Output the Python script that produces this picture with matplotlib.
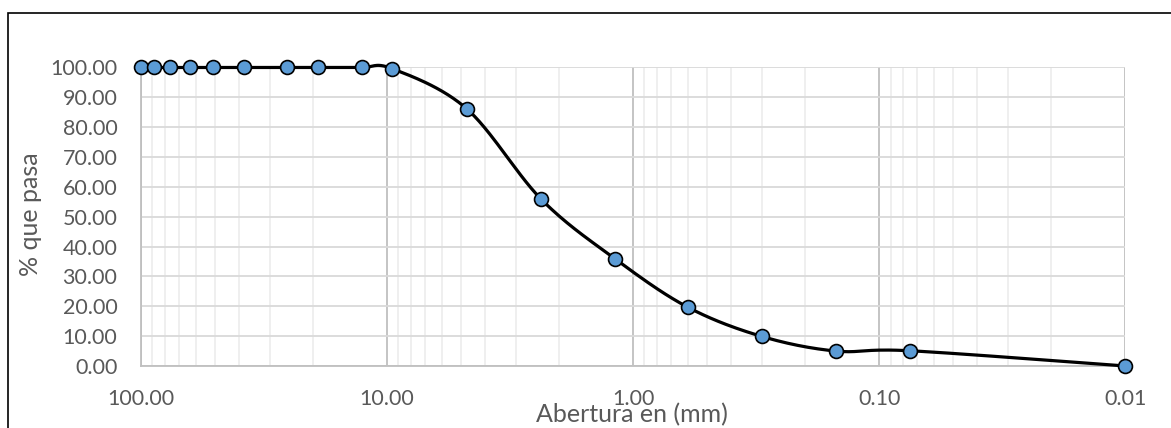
import numpy as np
import matplotlib.pyplot as plt
from matplotlib.ticker import FixedLocator, FuncFormatter, NullFormatter
from matplotlib.patches import Rectangle

plt.rcParams['font.family'] = ['Lato', 'DejaVu Sans']

# Granulometría
abertura = [100.0, 88.9, 76.2, 63.5, 50.8, 38.1, 25.4, 19.05, 12.7, 9.525,
            4.75, 2.36, 1.18, 0.60, 0.30, 0.15, 0.075, 0.01]
pasa = [100.0, 100.0, 100.0, 100.0, 100.0, 100.0, 100.0, 100.0, 100.0, 99.6,
        86.2, 55.8, 35.8, 19.7, 9.9, 5.0, 5.1, 0.0]
x_ticks = [100, 10, 1, 0.1, 0.01]
y_ticks = list(range(0, 101, 10))

gris = '#595959'

fig = plt.figure(figsize=(11.71, 4.28), dpi=100)
ax = fig.add_axes([0.1204, 0.1449, 0.8406, 0.6974])

# marco del gráfico (solo se ve arriba y a la izquierda)
fig.patches.append(Rectangle((8 / 1171, -0.1), 1.2, 1 - 12.5 / 428 + 0.1,
                             transform=fig.transFigure, fill=False,
                             edgecolor='black', linewidth=1.2))

ax.set_xscale('log')
ax.set_xlim(100, 0.01)
ax.set_ylim(0, 100)

ax.xaxis.set_major_locator(FixedLocator(x_ticks))
minors = [m * 10.0 ** e for e in range(-2, 2) for m in range(2, 10)]
ax.xaxis.set_minor_locator(FixedLocator(minors))
ax.xaxis.set_minor_formatter(NullFormatter())
ax.xaxis.set_major_formatter(FuncFormatter(lambda v, p: f'{v:.2f}'))
ax.yaxis.set_major_locator(FixedLocator(y_ticks))
ax.yaxis.set_major_formatter(FuncFormatter(lambda v, p: f'{v:.2f}'))

ax.grid(True, which='major', axis='y', color='#d9d9d9', linewidth=1.3)
ax.grid(True, which='major', axis='x', color='#bfbfbf', linewidth=1.3)
ax.grid(True, which='minor', axis='x', color='#eeeeee', linewidth=1.3)
ax.set_axisbelow(True)

for s in ['top', 'right']:
    ax.spines[s].set_visible(False)
ax.spines['bottom'].set_color('#bfbfbf')
ax.spines['left'].set_color('#bfbfbf')
ax.spines['bottom'].set_linewidth(1.3)
ax.spines['left'].set_linewidth(1.3)
ax.tick_params(which='both', length=0)
ax.tick_params(axis='y', pad=17, labelsize=15.5, labelcolor=gris)
ax.tick_params(axis='x', pad=16.5, labelsize=15.5, labelcolor=gris)

ax.set_ylabel('% que pasa', fontsize=18, color=gris)
ax.set_xlabel('Abertura en (mm)', fontsize=18, color=gris)
ax.yaxis.set_label_coords(-0.1006, 0.507)
ax.xaxis.set_label_coords(0.499, -0.124)

# curva suavizada (Catmull-Rom en coordenadas de pantalla, como Excel)
fig.canvas.draw()
pts = ax.transData.transform(np.column_stack([abertura, pasa]))
curva = [pts[0]]
t = np.linspace(0, 1, 30)[1:]
for i in range(len(pts) - 1):
    p0 = pts[max(i - 1, 0)]
    p1 = pts[i]
    p2 = pts[i + 1]
    p3 = pts[min(i + 2, len(pts) - 1)]
    c1 = p1 + (p2 - p0) / 6
    c2 = p2 - (p3 - p1) / 6
    for tt in t:
        b = ((1 - tt) ** 3 * p1 + 3 * (1 - tt) ** 2 * tt * c1
             + 3 * (1 - tt) * tt ** 2 * c2 + tt ** 3 * p2)
        curva.append(b)
curva = ax.transData.inverted().transform(np.array(curva))

ax.plot(curva[:, 0], curva[:, 1], color='black', linewidth=2.3,
        clip_on=False, zorder=3)
ax.plot(abertura, pasa, linestyle='none', marker='o', markersize=10,
        markerfacecolor='#5b9bd5', markeredgecolor='black',
        markeredgewidth=1.2, clip_on=False, zorder=4)

fig.savefig('out.png', dpi=100)
